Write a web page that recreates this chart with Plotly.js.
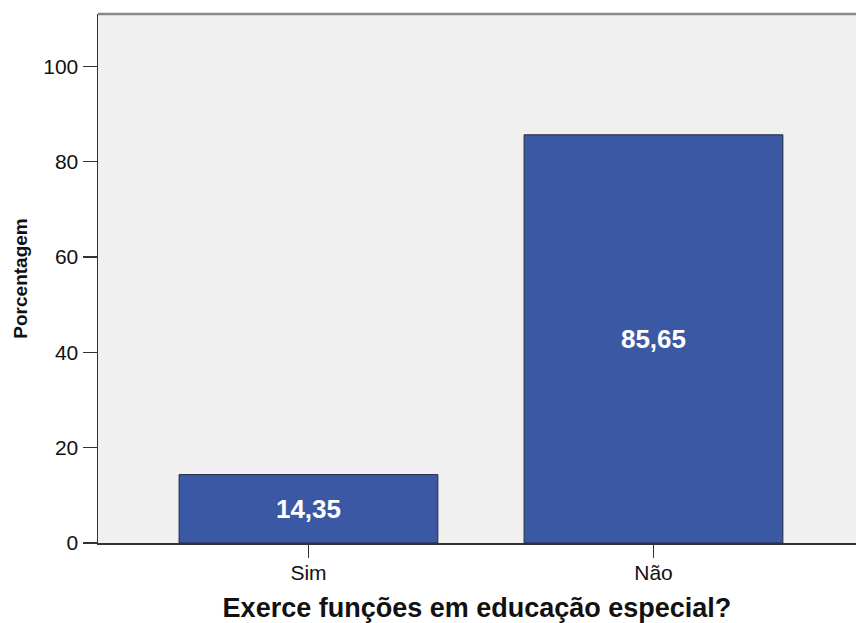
<!DOCTYPE html>
<html>
<head>
<meta charset="utf-8">
<script src="https://cdn.plot.ly/plotly-3.0.1.min.js"></script>
<style>html,body{margin:0;padding:0;background:#fff;}#chart{width:856px;height:623px;}</style>
</head>
<body>
<div id="chart"></div>
<script>
const categories = ["Sim", "Não"];
const percentages = [14.35, 85.65];
const yTickValues = [0, 20, 40, 60, 80, 100];
const xTitle = "Exerce funções em educação especial?";
const yTitle = "Porcentagem";

const fmt = v => v.toFixed(2).replace(".", ",");

const trace = {
  type: "bar",
  x: categories,
  y: percentages,
  width: 0.75,
  marker: {color: "#3b58a5", line: {color: "#222a3c", width: 1}},
  text: percentages.map(fmt),
  textposition: "inside",
  insidetextanchor: "middle",
  textangle: 0,
  insidetextfont: {family: "Liberation Sans, Arial, sans-serif", size: 26, color: "#ffffff", weight: "bold"},
  hoverinfo: "none"
};

const layout = {
  width: 856, height: 623,
  margin: {l: 98, r: 0, t: 14, b: 80},
  paper_bgcolor: "#ffffff",
  plot_bgcolor: "#eff0ef",
  separators: ",.",
  showlegend: false,
  font: {family: "Liberation Sans, Arial, sans-serif", color: "#111111"},
  xaxis: {
    type: "category",
    range: [-0.61, 1.587],
    showgrid: false, zeroline: false,
    showline: true, linecolor: "#333333", linewidth: 1.5,
    ticks: "outside", ticklen: 13, tickwidth: 1.5, tickcolor: "#333333",
    ticklabelstandoff: -3,
    tickfont: {size: 21, color: "#111111"},
    title: {text: xTitle, font: {size: 27, weight: "bold", color: "#111111"}, standoff: 15}
  },
  yaxis: {
    range: [0, 111],
    tickvals: yTickValues,
    showgrid: false, zeroline: false,
    showline: true, linecolor: "#333333", linewidth: 1.5,
    ticks: "outside", ticklen: 14, tickwidth: 1.5, tickcolor: "#333333",
    tickfont: {size: 21, color: "#111111"},
    title: {text: yTitle, font: {size: 19, weight: "bold", color: "#111111"}, standoff: 10}
  },
  shapes: [{
    type: "line", xref: "paper", yref: "paper",
    x0: 0, x1: 1, y0: 1, y1: 1,
    line: {color: "#888888", width: 2.5}
  }]
};

Plotly.newPlot("chart", [trace], layout, {staticPlot: true, displayModeBar: false});
</script>
</body>
</html>
